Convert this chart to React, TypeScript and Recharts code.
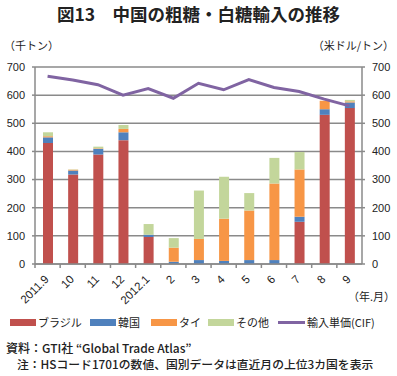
import React from 'react';
import { ComposedChart, Bar, Line, XAxis, YAxis, CartesianGrid } from 'recharts';

const months = ['2011.9', '10', '11', '12', '2012.1', '2', '3', '4', '5', '6', '7', '8', '9'];
const brazil = [430, 318, 389, 440, 96, 0, 0, 0, 0, 0, 150, 530, 554];
const korea = [20, 14, 20, 28, 8, 8, 14, 11, 14, 14, 18, 20, 20];
const thai = [4, 3, 2, 12, 0, 50, 75, 150, 176, 272, 168, 30, 4];
const other = [14, 1, 6, 14, 38, 34, 172, 149, 62, 91, 62, 0, 5];
const unitPrice = [667, 654, 637, 600, 623, 589, 642, 619, 655, 627, 613, 586, 562];
const yTicks = [0, 100, 200, 300, 400, 500, 600, 700];

const data = months.map((m, i) => ({
  month: m,
  brazil: brazil[i],
  korea: korea[i],
  thai: thai[i],
  other: other[i],
  price: unitPrice[i],
}));

const AXIS = '#8a8a8a';
const JP = '"Noto Sans CJK JP", "Noto Sans", sans-serif';
const NUM = '"Liberation Sans", Arial, sans-serif';

const MonthTick = ({ x, y, payload }: any) => {
  const half = payload && payload.offset ? payload.offset : 12.6;
  return (
    <g>
      <line x1={x - half} y1={y} x2={x - half} y2={y + 4} stroke={AXIS} strokeWidth={1.5} />
      <text
        x={x + 2}
        y={y + 16}
        transform={`rotate(-45, ${x + 2}, ${y + 16})`}
        textAnchor="end"
        fontSize={11.5}
        fontFamily={NUM}
        fill="#222"
      >
        {payload.value}
      </text>
    </g>
  );
};

const legendItems = [
  { label: 'ブラジル', color: '#C0504D', x: 10 },
  { label: '韓国', color: '#4F81BD', x: 90 },
  { label: 'タイ', color: '#F79646', x: 151 },
  { label: 'その他', color: '#C3D69B', x: 208 },
];

export default function App() {
  return (
    <div style={{ position: 'absolute', left: 0, top: 0, width: 397, height: 376, background: '#fff', fontFamily: JP, color: '#222' }}>
      <div style={{ position: 'absolute', left: 0, width: 397, top: 3, textAlign: 'center', fontSize: 17.5, fontWeight: 'bold', lineHeight: '22px' }}>
        図13　中国の粗糖・白糖輸入の推移
      </div>
      <div style={{ position: 'absolute', left: 4, top: 37, fontSize: 11, lineHeight: '16px' }}>（千トン）</div>
      <div style={{ position: 'absolute', right: 3, top: 37, fontSize: 11, lineHeight: '16px' }}>（米ドル/トン）</div>

      <div style={{ position: 'absolute', left: 0, top: 0 }}>
        <ComposedChart
          width={397}
          height={320}
          data={data}
          margin={{ top: 67, right: 0, bottom: 0, left: 0 }}
          barSize={10}
        >
          <CartesianGrid vertical={false} stroke={AXIS} strokeWidth={1.5} yAxisId="left" />
          <XAxis
            dataKey="month"
            interval={0}
            height={56}
            tickLine={false}
            tickSize={0}
            tickMargin={0}
            axisLine={{ stroke: AXIS, strokeWidth: 1.5 }}
            tick={<MonthTick />}
          />
          <YAxis
            yAxisId="left"
            width={35}
            domain={[0, 700]}
            ticks={yTicks}
            tickSize={3}
            tickMargin={7}
            tickLine={{ stroke: AXIS, strokeWidth: 1.5 }}
            axisLine={{ stroke: AXIS, strokeWidth: 1.5 }}
            tick={{ fontSize: 11, fill: '#222', fontFamily: NUM }}
          />
          <YAxis
            yAxisId="right"
            orientation="right"
            width={35}
            domain={[0, 700]}
            ticks={yTicks}
            tickSize={3}
            tickMargin={7}
            tickLine={{ stroke: AXIS, strokeWidth: 1.5 }}
            axisLine={{ stroke: AXIS, strokeWidth: 1.5 }}
            tick={{ fontSize: 11, fill: '#222', fontFamily: NUM, textAnchor: 'start' }}
          />
          <Bar yAxisId="left" dataKey="brazil" stackId="a" fill="#C0504D" isAnimationActive={false} />
          <Bar yAxisId="left" dataKey="korea" stackId="a" fill="#4F81BD" isAnimationActive={false} />
          <Bar yAxisId="left" dataKey="thai" stackId="a" fill="#F79646" isAnimationActive={false} />
          <Bar yAxisId="left" dataKey="other" stackId="a" fill="#C3D69B" isAnimationActive={false} />
          <Line
            yAxisId="right"
            type="linear"
            dataKey="price"
            stroke="#8064A2"
            strokeWidth={3}
            dot={false}
            activeDot={false}
            isAnimationActive={false}
          />
        </ComposedChart>
      </div>

      <div style={{ position: 'absolute', left: 348, top: 288, fontSize: 11, lineHeight: '16px' }}>（年.月）</div>

      {legendItems.map((it) => (
        <div key={it.label} style={{ position: 'absolute', left: it.x, top: 314, height: 16, display: 'flex', alignItems: 'center', fontSize: 11 }}>
          <span style={{ display: 'inline-block', width: 26, height: 7, background: it.color, marginRight: 2 }} />
          <span>{it.label}</span>
        </div>
      ))}
      <div style={{ position: 'absolute', left: 278, top: 314, height: 16, display: 'flex', alignItems: 'center', fontSize: 11 }}>
        <span style={{ display: 'inline-block', width: 27, height: 3, background: '#8064A2', marginRight: 2 }} />
        <span>輸入単価(CIF)</span>
      </div>

      <div style={{ position: 'absolute', left: 6, top: 340, fontSize: 12, lineHeight: '16px', fontWeight: 500 }}>
        資料：GTI社 “Global Trade Atlas”
      </div>
      <div style={{ position: 'absolute', left: 17, top: 356, fontSize: 11.8, lineHeight: '16px', fontWeight: 500 }}>
        注：HSコード1701の数値、国別データは直近月の上位3カ国を表示
      </div>
    </div>
  );
}
